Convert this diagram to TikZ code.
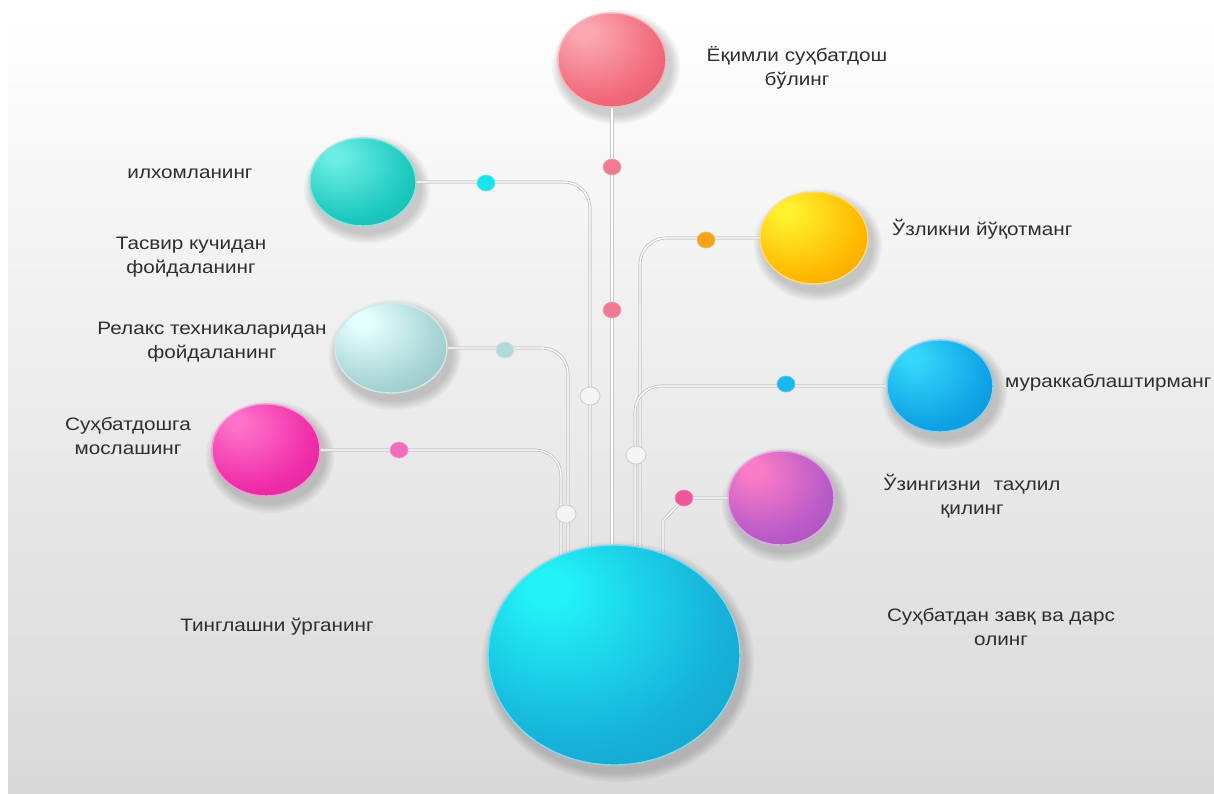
\documentclass[tikz,border=0pt]{standalone}
\usepackage{fontspec}
\setmainfont{Liberation Sans}
\usetikzlibrary{shapes.geometric}
\definecolor{txt}{HTML}{2E2E2E}
\definecolor{linegray}{HTML}{C9C9C9}
\definecolor{redA}{HTML}{FBA8B2}\definecolor{redB}{HTML}{F0697A}
\definecolor{tealA}{HTML}{6AEDE4}\definecolor{tealB}{HTML}{1CC8BE}
\definecolor{paleA}{HTML}{E6FFFF}\definecolor{paleB}{HTML}{A6D3D3}
\definecolor{pinkA}{HTML}{FF70C8}\definecolor{pinkB}{HTML}{EE2CA8}
\definecolor{yelA}{HTML}{FFF22E}\definecolor{yelB}{HTML}{FFB800}
\definecolor{bluA}{HTML}{34D6FA}\definecolor{bluB}{HTML}{0FA2E4}
\definecolor{purA}{HTML}{FA7CC6}\definecolor{purB}{HTML}{B85AC8}
\definecolor{bigA}{HTML}{22F2F6}\definecolor{bigB}{HTML}{16B0D9}
\definecolor{dRed}{HTML}{F07A92}
\definecolor{dCyan}{HTML}{19E2EE}
\definecolor{dOrange}{HTML}{F5A21D}
\definecolor{dPale}{HTML}{B2DADA}
\definecolor{dPink}{HTML}{F06CBC}
\definecolor{dBlue}{HTML}{1CB6F0}
\definecolor{dMag}{HTML}{F0559E}
\colorlet{glA}{white}
\colorlet{glB}{gray}
\pgfdeclareradialshading[glA,glB]{glossy}{\pgfpoint{-14bp}{16bp}}{color(0bp)=(glA); color(4bp)=(glA); color(30bp)=(glB); color(46bp)=(glB!90!black); color(70bp)=(glB!84!black)}
\newcommand\sshadow[4]{%
  \foreach \k in {1,...,6}{\fill[black, opacity=0.03] (#1+4,#2+7) ellipse [x radius={#3*1pt+\k*1.7pt}, y radius={#4*1pt+\k*1.7pt}];}}
\tikzset{
  sph/.style 2 args={ellipse, inner sep=0pt, /utils/exec={\colorlet{glA}{#1}\colorlet{glB}{#2}}, shading=glossy, draw=#2!50!white, line width=1.4pt},
  conn/.style={draw=linegray, line width=0.9pt, double=white, double distance=1.3pt, rounded corners=26pt},
  dot/.style={ellipse, inner sep=0pt, minimum width=18pt, minimum height=16pt, fill=#1, draw=#1!70!white, line width=0.6pt},
  wdot/.style={ellipse, inner sep=0pt, minimum width=20pt, minimum height=18pt, fill=white!96!black, draw=black!20, line width=0.8pt},
  lbl/.style={font=\fontsize{18}{24}\selectfont, text=txt, align=center, xscale=1.15, inner sep=0pt},
}
\begin{document}
\begin{tikzpicture}[x=1pt,y=-1pt]
\useasboundingbox (0,0) rectangle (1214,794);
\clip (0,0) rectangle (1214,794);
% background
\fill[white] (0,0) rectangle (1214,794);
\shade[top color=white, middle color=black!4, bottom color=black!15] (8,12) rectangle (1214,794);

% spheres (nodes)
\sshadow{612}{60}{54}{47}
\node[sph={redA}{redB}, minimum width=108pt, minimum height=94pt] (red) at (612,60) {};
\sshadow{363}{182}{53}{44}
\node[sph={tealA}{tealB}, minimum width=106pt, minimum height=88pt] (teal) at (363,182) {};
\sshadow{391}{348}{56}{45}
\node[sph={paleA}{paleB}, minimum width=112pt, minimum height=90pt] (pale) at (391,348) {};
\sshadow{266}{450}{54}{46}
\node[sph={pinkA}{pinkB}, minimum width=108pt, minimum height=92pt] (pink) at (266,450) {};
\sshadow{814}{238}{54}{46}
\node[sph={yelA}{yelB}, minimum width=108pt, minimum height=92pt] (yellow) at (814,238) {};
\sshadow{940}{386}{53}{46}
\node[sph={bluA}{bluB}, minimum width=106pt, minimum height=92pt] (blue) at (940,386) {};
\sshadow{781}{498}{53}{47}
\node[sph={purA}{purB}, minimum width=106pt, minimum height=94pt] (purple) at (781,498) {};

% line end points inside the big sphere
\coordinate (eR) at (612,600);
\coordinate (eT) at (590,600);
\coordinate (eP) at (568,600);
\coordinate (eK) at (561,600);
\coordinate (eY) at (640,600);
\coordinate (eB) at (635,600);
\coordinate (eU) at (663,600);
\coordinate (kU) at (663,521);

% connectors
\draw[conn] (red.south) -- (eR);
\draw[conn] (teal.east) -| (eT);
\draw[conn] (pale.east) -| (eP);
\draw[conn] (pink.east) -| (eK);
\draw[conn] (yellow.west) -| (eY);
\draw[conn] (blue.west) -| (eB);
\draw[conn, rounded corners=0pt] (purple.west) -- (684,498) -- (kU) -- (eU);

% dots
\node[dot=dRed] (d1) at (612,167) {};
\node[dot=dRed] (d2) at (612,310) {};
\node[dot=dCyan] (d3) at (486,183) {};
\node[dot=dOrange] (d4) at (706,240) {};
\node[dot=dPale] (d5) at (505,350) {};
\node[dot=dPink] (d6) at (399,450) {};
\node[dot=dBlue] (d7) at (786,384) {};
\node[dot=dMag] (d8) at (684,498) {};
\node[wdot] (w1) at (590,396) {};
\node[wdot] (w2) at (636,455) {};
\node[wdot] (w3) at (566,514) {};

% big sphere
\sshadow{614}{655}{126}{110}
\node[sph={bigA}{bigB}, minimum width=252pt, minimum height=220pt] (big) at (614,655) {};

% labels
\node[lbl] (t1) at (797,68) {Ёқимли суҳбатдош\\бўлинг};
\node[lbl] (t2) at (190,174) {илхомланинг};
\node[lbl] (t3) at (191,257) {Тасвир кучидан\\фойдаланинг};
\node[lbl] (t4) at (212,342) {Релакс техникаларидан\\фойдаланинг};
\node[lbl] (t5) at (128,436) {Суҳбатдошга\\мослашинг};
\node[lbl, anchor=west] (t6) at (892,229) {Ўзликни йўқотманг};
\node[lbl, anchor=west] (t7) at (1005,383) {мураккаблаштирманг};
\node[lbl] (t8) at (972,496) {Ўзингизни\hspace{0.35em} таҳлил\\қилинг};
\node[lbl] (t9) at (277,627) {Тинглашни ўрганинг};
\node[lbl] (t10) at (1001,627) {Суҳбатдан завқ ва дарс\\олинг};
\end{tikzpicture}
\end{document}
